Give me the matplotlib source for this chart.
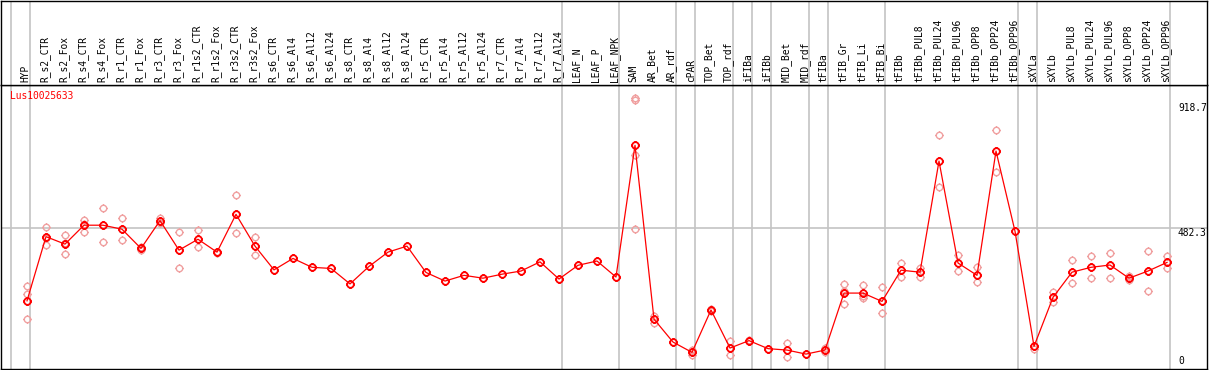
import numpy as np
import matplotlib
matplotlib.use("Agg")
import matplotlib.pyplot as plt
from matplotlib.path import Path

# -------------------------
# DATA
# -------------------------
gene_id = "Lus10025633"

samples = [
    "HYP", "R_s2_CTR", "R_s2_Fox", "R_s4_CTR", "R_s4_Fox", "R_r1_CTR", "R_r1_Fox",
    "R_r3_CTR", "R_r3_Fox", "R_r1s2_CTR", "R_r1s2_Fox", "R_r3s2_CTR", "R_r3s2_Fox",
    "R_s6_CTR", "R_s6_Al4", "R_s6_Al12", "R_s6_Al24", "R_s8_CTR", "R_s8_Al4",
    "R_s8_Al12", "R_s8_Al24", "R_r5_CTR", "R_r5_Al4", "R_r5_Al12", "R_r5_Al24",
    "R_r7_CTR", "R_r7_Al4", "R_r7_Al12", "R_r7_Al24", "LEAF_N", "LEAF_P", "LEAF_NPK",
    "SAM", "AR_Bet", "AR_rdf", "cPAR", "TOP_Bet", "TOP_rdf", "iFIBa", "iFIBb",
    "MID_Bet", "MID_rdf", "tFIBa", "tFIB_Gr", "tFIB_Li", "tFIB_Bi", "tFIBb",
    "tFIBb_PUL8", "tFIBb_PUL24", "tFIBb_PUL96", "tFIBb_OPP8", "tFIBb_OPP24",
    "tFIBb_OPP96", "sXYLa", "sXYLb", "sXYLb_PUL8", "sXYLb_PUL24", "sXYLb_PUL96",
    "sXYLb_OPP8", "sXYLb_OPP24", "sXYLb_OPP96",
]

means = [
    229, 453, 427, 493, 493, 479, 412, 509, 406, 444, 399, 531, 420,
    337, 377, 346, 342, 288, 349, 399, 420, 328, 298, 318, 308,
    322, 333, 365, 305, 353, 368, 312,
    772, 165, 85, 49, 197, 64, 90, 62, 57, 43, 57, 256, 256, 227, 336,
    329, 717, 361, 318, 752, 472,
    70, 241, 329, 346, 354, 308, 333, 363,
]

replicates = [
    [281, 252, 164], [487, 423, 450], [459, 391, 430], [511, 469, 498],
    [552, 433], [518, 440], [418, 406], [519, 500], [468, 342],
    [475, 416], [401, 397], [597, 465], [452, 388],
    [], [], [], [], [], [], [], [], [], [], [], [],
    [], [], [], [], [], [], [],
    [936, 930, 737, 479], [153, 175], [], [40, 57], [195, 199], [89, 39],
    [92, 88], [], [82, 32], [], [64, 52], [288, 218, 262], [284, 246, 238],
    [276, 185], [361, 311],
    [345, 313], [807, 625], [389, 333], [347, 295], [824, 679], [],
    [62], [260, 225], [370, 290], [385, 308], [396, 308], [316, 300],
    [402, 263], [385, 345],
]

# group separators sit just right of these sample indices
separators_after = [-1, 0, 28, 31, 34, 35, 37, 38, 39, 41, 42, 45, 52, 53, 60]

axis_values = [918.7, 482.3, 0]

# -------------------------
# MARKER: circle with four small ticks
# -------------------------
circle = Path.unit_circle()
t = 1.3
ticks = Path(
    [(0, 1), (0, t), (0, -1), (0, -t), (1, 0), (t, 0), (-1, 0), (-t, 0)],
    [Path.MOVETO, Path.LINETO] * 4,
)
tick_circle = Path.make_compound_path(circle, ticks)

# -------------------------
# FIGURE SETUP
# -------------------------
W, H = 1209, 370
fig = plt.figure(figsize=(W / 100, H / 100), dpi=100)

mono = "DejaVu Sans Mono"
fs = 6.9

x = np.arange(len(samples))
xlim = ((1 - 27) / 19, (1207 - 27) / 19)

# main plot: pixel rows 85..369
ax = fig.add_axes([1 / W, 1 / H, 1206 / W, 284 / H])
# label strip: pixel rows 0..85
ax_lab = fig.add_axes([1 / W, 285 / H, 1206 / W, 84.5 / H])

for a in (ax, ax_lab):
    a.set_xlim(*xlim)
    a.set_xticks([])
    a.set_yticks([])
    for s in a.spines.values():
        s.set_color("black")
        s.set_linewidth(1.0)
    for i in separators_after:
        a.axvline(i + 0.18, color="#c4c4c4", lw=1.2, zorder=0)

scale = 0.2864
ax.set_ylim((366.4 - 369) / scale, (366.4 - 85) / scale)
ax_lab.set_ylim(0, 1)

ax.axhline(482.3, color="#c4c4c4", lw=1.2, zorder=0)

# sample labels
for i, name in enumerate(samples):
    ax_lab.text(i - 0.06, 0.03, name, rotation=90, ha="center", va="bottom",
                family=mono, fontsize=fs, color="black")

# replicates
rx = [i for i, reps in enumerate(replicates) for _ in reps]
ry = [v for reps in replicates for v in reps]
ax.plot(rx, ry, linestyle="none", marker=tick_circle, markersize=6.0,
        markerfacecolor="none", markeredgecolor="#f0a0a0", markeredgewidth=1.0,
        zorder=2)

# means
ax.plot(x, means, color="red", lw=0.9, marker=tick_circle, markersize=6.2,
        markerfacecolor="none", markeredgecolor="red", markeredgewidth=1.3,
        zorder=3)

# right-hand value labels
xr = (1178 - 27) / 19
for v in axis_values:
    ax.text(xr, v, f"{v:g}", ha="left", va="bottom" if v == 0 else "top",
            family=mono, fontsize=fs, color="black")

ax.text(9 / 1206, 1 - 6 / 284, gene_id, transform=ax.transAxes, ha="left",
        va="top", family=mono, fontsize=fs, color="red")

fig.savefig("out.png", dpi=100)
